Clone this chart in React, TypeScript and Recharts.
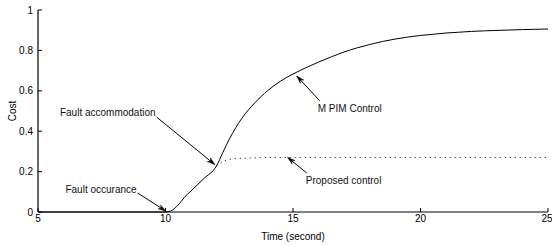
import { Line, LineChart, ReferenceLine, XAxis, YAxis } from "recharts";

const time = [
  5, 10, 10.2, 10.5, 10.75, 11, 11.5, 12, 12.25, 12.5, 13, 13.5, 14, 14.5, 15,
  15.5, 16, 16.5, 17, 17.5, 18, 18.5, 19, 19.5, 20, 20.5, 21, 21.5, 22, 23, 24,
  25,
];
const mpimCost = [
  0, 0, 0.005, 0.035, 0.074, 0.104, 0.165, 0.228, 0.295, 0.36, 0.465, 0.54,
  0.6, 0.647, 0.683, 0.714, 0.742, 0.768, 0.792, 0.812, 0.829, 0.844, 0.856,
  0.866, 0.874, 0.88, 0.886, 0.89, 0.894, 0.899, 0.903, 0.906,
];
const proposedCost = [
  null, null, null, null, null, null, null, 0.228, 0.25, 0.26, 0.266, 0.268,
  0.27, 0.27, 0.27, 0.27, 0.27, 0.27, 0.27, 0.27, 0.27, 0.27, 0.27, 0.27, 0.27,
  0.27, 0.27, 0.27, 0.27, 0.27, 0.27, 0.27,
];
const xTicks = [5, 10, 15, 20, 25];
const yTicks = [0, 0.2, 0.4, 0.6, 0.8, 1];

// annotation text + arrow (from text to tip), in data units
const notes = [
  { text: "Fault occurance", from: [8.906, 0.094], to: [10.01, 0.005], anchor: "end", dx: -1, dy: 0 },
  { text: "Fault accommodation", from: [9.65, 0.47], to: [11.93, 0.235], anchor: "end", dx: -1, dy: -1.5 },
  { text: "M PIM Control", from: [16.05, 0.55], to: [15.15, 0.673], anchor: "start", dx: -2, dy: 11 },
  { text: "Proposed control", from: [15.54, 0.193], to: [14.79, 0.27], anchor: "start", dx: -1, dy: 11 },
];

const data = time.map((t, i) => ({
  t,
  mpim: mpimCost[i],
  proposed: proposedCost[i],
}));

const font = "'Liberation Sans', Arial, Helvetica, sans-serif";
const tickStyle = { fill: "#000", fontSize: 10, fontFamily: font };

const arrowShape = (note: any) => (props: any) => {
  const { x1, y1, x2, y2 } = props;
  const ang = Math.atan2(y2 - y1, x2 - x1);
  const len = 8;
  const spread = 0.3;
  const ax = x2 - len * Math.cos(ang - spread);
  const ay = y2 - len * Math.sin(ang - spread);
  const bx = x2 - len * Math.cos(ang + spread);
  const by = y2 - len * Math.sin(ang + spread);
  return (
    <g>
      <line x1={x1} y1={y1} x2={x2} y2={y2} stroke="#000" strokeWidth={1} />
      <polygon
        points={`${ax},${ay} ${x2},${y2} ${bx},${by} ${x2 - 5 * Math.cos(ang)},${y2 - 5 * Math.sin(ang)}`}
        fill="#000"
        stroke="#000"
        strokeWidth={0.5}
      />
      <text
        x={x1 + note.dx}
        y={y1 + note.dy}
        textAnchor={note.anchor}
        fontSize={10}
        fontFamily={font}
        fill="#111"
      >
        {note.text}
      </text>
    </g>
  );
};

const CostLabel = (props: any) => {
  const vb = props.viewBox || {};
  const x = 12;
  const y = (vb.y ?? 10) + (vb.height ?? 202) / 2;
  return (
    <text
      x={x}
      y={y}
      transform={`rotate(-90 ${x} ${y})`}
      textAnchor="middle"
      dominantBaseline="central"
      fontSize={10}
      fontFamily={font}
      fill="#000"
    >
      Cost
    </text>
  );
};

export default function App() {
  return (
    <div style={{ position: "absolute", left: 0, top: 0, background: "#fff" }}>
      <LineChart
        width={552}
        height={245}
        data={data}
        margin={{ top: 10, right: 4, bottom: 3, left: 8 }}
      >
        <XAxis
          dataKey="t"
          type="number"
          domain={[5, 25]}
          ticks={xTicks}
          allowDataOverflow
          tick={tickStyle}
          tickSize={-4}
          tickMargin={7}
          height={30}
          axisLine={{ stroke: "#000", strokeWidth: 1.2 }}
          tickLine={{ stroke: "#000" }}
          label={{
            value: "Time (second)",
            position: "insideBottom",
            offset: 2,
            fill: "#000",
            fontSize: 10,
            fontFamily: font,
          }}
        />
        <XAxis
          xAxisId="top"
          dataKey="t"
          type="number"
          orientation="top"
          domain={[5, 25]}
          ticks={xTicks}
          tick={false}
          tickSize={-4}
          height={0}
          axisLine={{ stroke: "#000", strokeWidth: 1.2 }}
          tickLine={{ stroke: "#000" }}
        />
        <YAxis
          type="number"
          domain={[0, 1]}
          ticks={yTicks}
          tick={tickStyle}
          tickSize={-4}
          tickMargin={9}
          width={30}
          axisLine={{ stroke: "#000", strokeWidth: 1.2 }}
          tickLine={{ stroke: "#000" }}
          label={<CostLabel />}
        />
        <YAxis
          yAxisId="right"
          orientation="right"
          type="number"
          domain={[0, 1]}
          ticks={yTicks}
          tick={false}
          tickSize={-4}
          width={0}
          axisLine={{ stroke: "#000", strokeWidth: 1.2 }}
          tickLine={{ stroke: "#000" }}
        />
        <Line
          dataKey="mpim"
          type="monotone"
          stroke="#000"
          strokeWidth={1}
          dot={false}
          isAnimationActive={false}
        />
        <Line
          dataKey="proposed"
          type="monotone"
          stroke="#000"
          strokeWidth={1}
          strokeDasharray="1 4"
          dot={false}
          connectNulls={false}
          isAnimationActive={false}
        />
        {notes.map((n) => (
          <ReferenceLine
            key={n.text}
            segment={[
              { x: n.from[0], y: n.from[1] },
              { x: n.to[0], y: n.to[1] },
            ]}
            ifOverflow="visible"
            shape={arrowShape(n)}
          />
        ))}
      </LineChart>
    </div>
  );
}
